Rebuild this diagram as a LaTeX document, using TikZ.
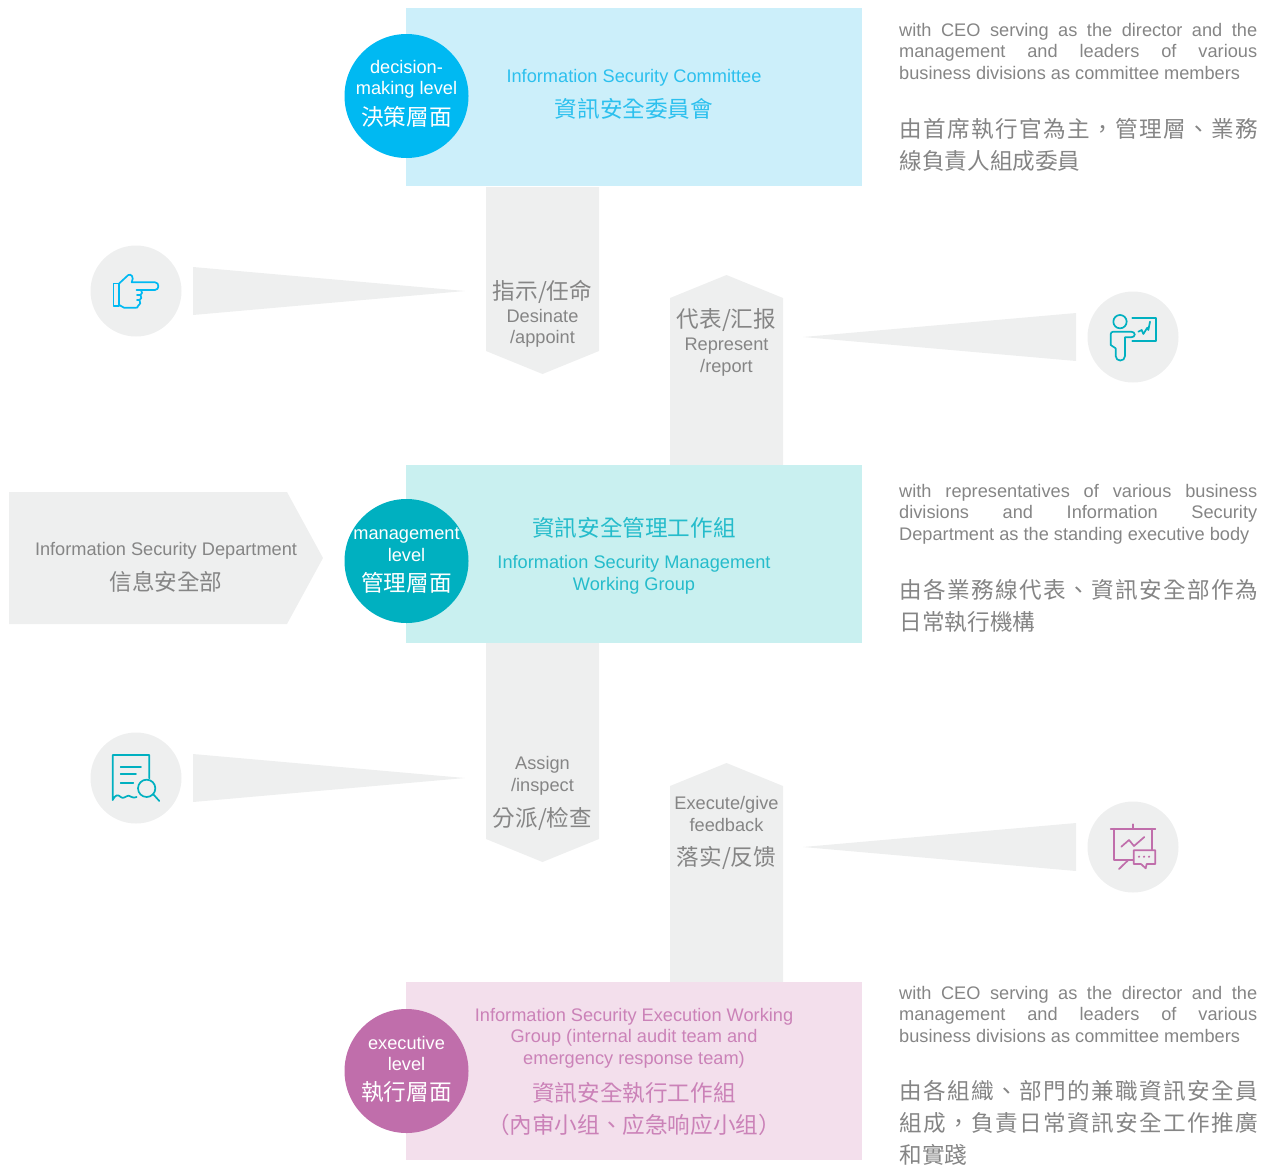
\documentclass[tikz,border=0pt]{standalone}
\usepackage{fontspec}
\setmainfont{Liberation Sans}
\newfontfamily\cjk{Noto Sans CJK TC}
\newfontfamily\cjkwide[LetterSpace=6.2]{Noto Sans CJK TC}
\definecolor{cyanc}{HTML}{00B9F2}
\definecolor{tealc}{HTML}{00B0C0}
\definecolor{pinkc}{HTML}{C06EAB}
\definecolor{cyanb}{HTML}{CCEFFA}
\definecolor{tealb}{HTML}{C9F0F0}
\definecolor{pinkb}{HTML}{F3DFEC}
\definecolor{greyf}{HTML}{EEEFEF}
\definecolor{txt}{HTML}{858585}
\definecolor{cyant}{HTML}{2CC0EE}
\definecolor{tealt}{HTML}{25BCCB}
\definecolor{pinkt}{HTML}{CB82B8}
\newcommand{\en}{\fontsize{18.2}{21.5}\selectfont}
\newcommand{\zh}{\fontsize{22.6}{32}\selectfont\cjk}
\newcommand{\jline}[1]{\hbox to 358pt{\spaceskip=0pt plus 1fil\relax #1\unskip}}
\tikzset{
 lab/.style={inner sep=0pt,align=center,anchor=center,text=#1},
 enf/.style={font=\en},
 zhf/.style={font=\zh},
 side/.style={inner sep=0pt,anchor=north west,text=txt,align=left},
 ico/.style={draw=#1,line width=1.7pt,line join=round,line cap=round,fill=none},
 disc/.style={circle,fill=greyf,minimum size=91pt,inner sep=0pt},
 lev/.style={circle,fill=#1,minimum size=124pt,inner sep=0pt},
 greyshape/.style={fill=greyf,draw=none}
}
\begin{document}
\begin{tikzpicture}[x=1pt,y=-1pt]
\useasboundingbox (0,0) rectangle (1273,1165);
% arrows
\fill[greyshape] (486,187) -- (599,187) -- (599,351) -- (542.5,374) -- (486,351) -- cycle;
\fill[greyshape] (670,465) -- (670,298) -- (726.5,275) -- (783,298) -- (783,465) -- cycle;
\fill[greyshape] (486,643) -- (599,643) -- (599,839) -- (542.5,862) -- (486,839) -- cycle;
\fill[greyshape] (670,982) -- (670,786) -- (726.5,763) -- (783,786) -- (783,982) -- cycle;
\fill[greyshape] (9,492) -- (287,492) -- (323,558) -- (287,624) -- (9,624) -- cycle;
% wedges
\fill[greyshape] (193,267) -- (465,291) -- (193,315) -- cycle;
\fill[greyshape] (1076,313) -- (803,337) -- (1076,361) -- cycle;
\fill[greyshape] (193,754) -- (465,778) -- (193,802) -- cycle;
\fill[greyshape] (1076,823) -- (803,847) -- (1076,871) -- cycle;
% panels
\fill[cyanb] (406,8) rectangle (862,186);
\fill[tealb] (406,465) rectangle (862,643);
\fill[pinkb] (406,982) rectangle (862,1160);
% level circles
\node[lev=cyanc] (c1) at (406.5,96) {};
\node[lev=tealc] (c2) at (406.5,561) {};
\node[lev=pinkc] (c3) at (406.5,1071) {};
\node[lab=white,enf] (c1e) at (406.5,79.5) {decision-\\making level};
\node[lab=white,zhf] (c1z) at (406.5,117) {決策層面};
\node[lab=white,enf] (c2e) at (406.5,544.5) {management\\level};
\node[lab=white,zhf] (c2z) at (406.5,583) {管理層面};
\node[lab=white,enf] (c3e) at (406.5,1053.5) {executive\\level};
\node[lab=white,zhf] (c3z) at (406.5,1092) {執行層面};
% panel text
\node[lab=cyant,enf] (p1e) at (634,78) {Information Security Committee};
\node[lab=cyant,zhf] (p1z) at (634,109) {資訊安全委員會};
\node[lab=tealt,zhf] (p2z) at (634,528) {資訊安全管理工作組};
\node[lab=tealt,enf] (p2e) at (634,575) {Information Security Management\\Working Group};
\node[lab=pinkt,enf] (p3e) at (634,1038) {Information Security Execution Working\\Group (internal audit team and\\emergency response team)};
\node[lab=pinkt,zhf] (p3z) at (634,1109.5) {資訊安全執行工作組\\（內审小组、应急响应小组）};
% arrow and department text
\node[lab=txt,zhf] (a1z) at (542.5,292) {指示/任命};
\node[lab=txt,enf] (a1e) at (542.5,328.5) {Desinate\\/appoint};
\node[lab=txt,zhf] (a2z) at (726.5,320) {代表/汇报};
\node[lab=txt,enf] (a2e) at (726.5,357) {Represent\\/report};
\node[lab=txt,enf] (a3e) at (542.5,776) {Assign\\/inspect};
\node[lab=txt,zhf] (a3z) at (542.5,818.5) {分派/检查};
\node[lab=txt,enf] (a4e) at (726.5,814) {Execute/give\\feedback};
\node[lab=txt,zhf] (a4z) at (726.5,858) {落实/反馈};
\node[lab=txt,enf] (dept1) at (166,551) {Information Security Department};
\node[lab=txt,zhf] (dept2) at (166,581.5) {信息安全部};
% side text
\node[side,enf] (s1e) at (899,23) {\jline{with CEO serving as the director and the}\\\jline{management and leaders of various}\\business divisions as committee members};
\node[side,zhf] (s1z) at (899.5,118) {\hbox{\cjkwide 由首席執行官為主，管理層、業務}\\線負責人組成委員};
\node[side,enf] (s2e) at (899,484) {\jline{with representatives of various business}\\\jline{divisions and Information Security}\\Department as the standing executive body};
\node[side,zhf] (s2z) at (899.5,579) {\hbox{\cjkwide 由各業務線代表、資訊安全部作為}\\日常執行機構};
\node[side,enf] (s3e) at (899,986) {\jline{with CEO serving as the director and the}\\\jline{management and leaders of various}\\business divisions as committee members};
\node[side,zhf] (s3z) at (899.5,1080) {\hbox{\cjkwide 由各組織、部門的兼職資訊安全員}\\\hbox{\cjkwide 組成，負責日常資訊安全工作推廣}\\和實踐};
% icon discs
\node[disc] (i1) at (136,291) {};
\node[disc] (i2) at (1133,337) {};
\node[disc] (i3) at (136,778) {};
\node[disc] (i4) at (1133,847) {};
% hand
\draw[ico=cyanc] (113.5,283.5) rectangle (119.3,306);
\draw[ico=cyanc] (119.3,283.3) -- (128.3,275) .. controls (131,273.5) and (134.5,277) .. (131.7,282.3) -- (155,282.3) .. controls (159.5,282.3) and (159.5,290) .. (155,290) -- (141,290) .. controls (142.5,292) and (142.5,294) .. (140.5,295) .. controls (142,297) and (141.5,299.5) .. (139.5,300) .. controls (141,302) and (140.5,305) .. (138,306) .. controls (138,307.5) and (137,307.7) .. (136,307.7) -- (124,307.7) -- (119.3,305);
\draw[ico=cyanc] (141,290) -- (136.5,290);
\draw[ico=cyanc] (140.5,295) -- (137,295);
\draw[ico=cyanc] (139.5,300) -- (137,300);
% presenter
\begin{scope}[shift={(1070,280)},x=0.3333pt,y=-0.3333pt]
\draw[ico=tealc] (150,125) circle[radius=20];
\draw[ico=tealc] (187,113) -- (257,113) -- (257,182) -- (187,182);
\draw[ico=tealc] (130,155) -- (183,155) .. controls (198,155) and (198,172) .. (183,172) -- (165,172) -- (165,228) .. controls (165,246) and (137,246) .. (137,228) -- (137,205) -- (122,195) -- (122,163) .. controls (122,158) and (125,155) .. (130,155);
\draw[ico=tealc] (205,155) -- (215,150) -- (220,162) -- (232,143) -- (235,150) -- (240,125);
\end{scope}
% document
\begin{scope}[shift={(80,725)},x=0.3333pt,y=-0.3333pt]
\draw[ico=tealc] (208,160) -- (208,90) -- (98,90) -- (98,225) .. controls (106,208) and (115,208) .. (122,216) .. controls (130,224) and (138,212) .. (146,212) .. controls (152,212) and (158,222) .. (170,216);
\draw[ico=tealc] (200,190) circle[radius=26];
\draw[ico=tealc] (220,208) -- (238,228);
\draw[ico=tealc] (122,125) -- (183,125);
\draw[ico=tealc] (122,148) -- (168,148);
\draw[ico=tealc] (122,174) -- (160,174);
\end{scope}
% board
\begin{scope}[shift={(1080,795)},x=0.3333pt,y=-0.3333pt]
\draw[ico=pinkc] (92,101) -- (226,101);
\draw[ico=pinkc] (158,88) -- (158,101);
\draw[ico=pinkc] (101,101) -- (101,195) -- (160,195);
\draw[ico=pinkc] (216,101) -- (216,165);
\draw[ico=pinkc] (161,166) -- (226,166) -- (226,207) -- (200,207) -- (197,220) -- (183,207) -- (161,207) -- cycle;
\draw[ico=pinkc] (117,222) -- (143,197);
\draw[ico=pinkc] (124,155) -- (147,135) -- (162,153) -- (193,126);
\fill[pinkc] (177,185) circle[radius=3.5] (192,185) circle[radius=3.5] (207,185) circle[radius=3.5];
\end{scope}
\end{tikzpicture}
\end{document}
